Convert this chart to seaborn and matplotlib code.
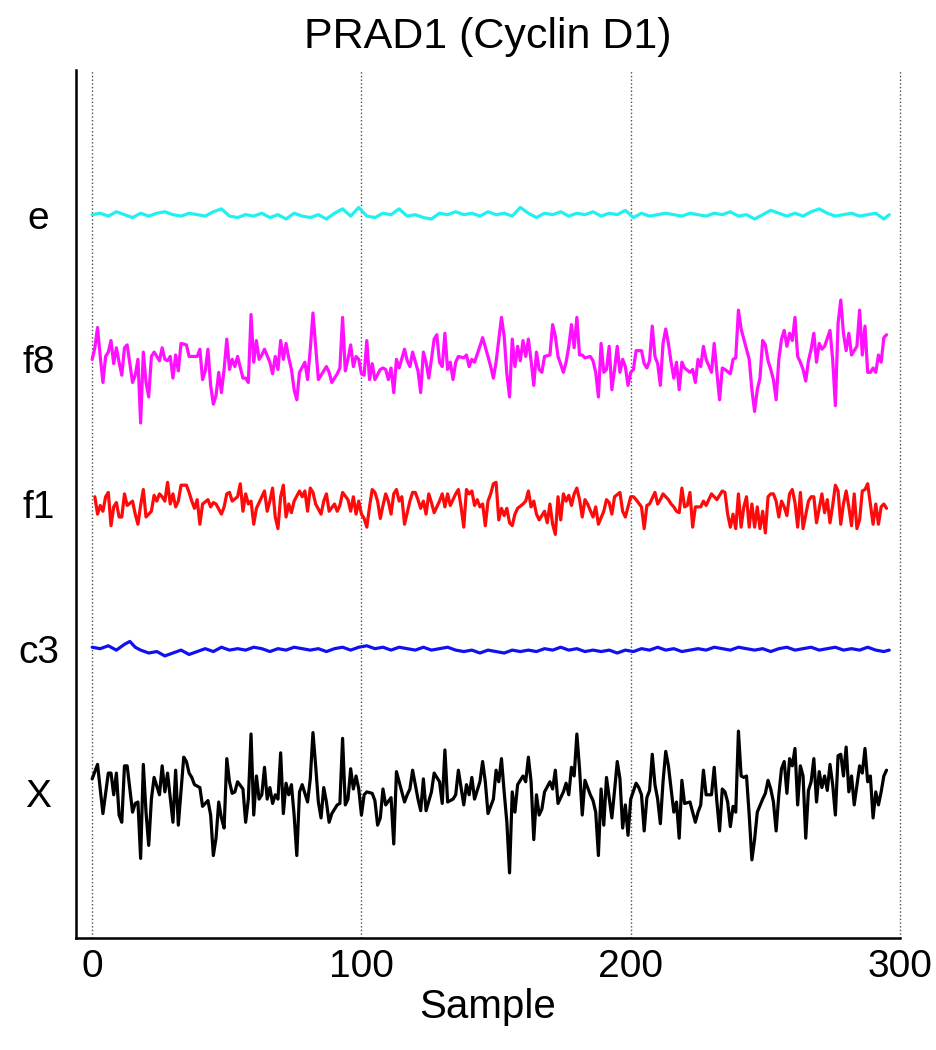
import pandas as pd
import seaborn as sns
import matplotlib.pyplot as plt

# (sample, deviation); 100 units = spacing between traces
x_pts = [(0, 10), (2, 20), (4, -14), (6, 14), (7, 14), (8, -1), (9, 14), (10, -15), (11, -20), (12, 19),
         (13, 19), (15, -13), (16, -7), (17, -6), (18, -45), (19, 20), (20, -13), (21, -36), (22, -4), (23, 11),
         (25, -1), (26, 19), (27, 1), (28, 14), (30, -20), (31, 16), (32, -22), (34, 25), (35, 22), (36, 14),
         (37, 11), (38, 6), (40, 4), (41, -9), (43, -5), (44, -15), (45, -43), (46, -31), (47, -6), (48, -17),
         (49, -24), (50, 24), (51, 8), (52, 0), (53, 1), (54, 8), (56, 3), (57, -20), (58, -4), (59, 41),
         (60, -15), (61, 12), (62, -4), (63, -1), (64, 18), (65, -4), (66, 4), (67, -7), (68, -1), (69, -4),
         (70, 28), (71, -14), (72, 7), (73, -1), (74, 6), (75, -15), (76, -43), (77, 1), (78, 6), (80, -6),
         (81, 10), (82, 42), (83, 19), (84, -6), (85, -17), (86, 4), (87, -6), (88, -20), (89, -14), (91, -8),
         (92, -7), (93, 38), (94, -8), (95, -4), (96, 17), (97, 3), (98, 12), (99, 3), (100, -15), (101, -1),
         (102, 1), (104, 0), (105, -5), (106, -22), (107, -17), (108, 3), (109, -8), (111, -3), (112, -35), (113, 15),
         (114, 8), (116, -6), (117, -1), (118, 3), (119, 16), (121, -4), (122, -12), (123, 10), (124, -12), (126, 1),
         (127, 14), (129, 8), (130, -7), (131, 30), (132, -6), (134, -4), (135, -1), (136, 16), (138, -8), (139, 6),
         (140, -1), (141, 11), (142, -4), (144, 8), (145, 22), (146, 8), (147, -14), (149, -4), (150, 16), (151, 8),
         (152, 24), (153, 1), (154, -20), (155, -55), (156, 1), (157, -13), (158, 6), (160, 12), (161, 8), (162, 25),
         (163, 8), (164, -32), (165, -1), (166, -15), (167, -11), (168, 1), (170, 8), (171, 3), (172, 16), (173, -7),
         (175, 1), (176, 7), (177, -1), (178, 18), (179, 12), (180, 41), (181, 17), (182, -15), (183, 9), (185, -1),
         (186, -5), (187, -13), (188, -43), (189, 3), (190, -22), (191, 11), (193, -17), (194, 2), (195, 22), (196, 10),
         (197, -24), (198, -8), (199, -29), (200, -4), (202, 7), (203, 4), (204, -1), (205, -26), (206, -3), (207, 2),
         (208, 27), (209, 6), (210, -4), (211, -21), (212, 8), (213, 29), (214, 19), (215, 3), (216, -13), (217, -6),
         (218, -31), (219, 9), (220, -7), (222, -6), (223, -13), (224, -20), (225, -13), (226, -8), (227, 16), (228, -1),
         (230, -1), (231, 18), (232, -6), (233, -26), (234, 3), (235, 1), (236, -6), (237, -23), (238, -9), (239, -13),
         (240, 43), (241, 12), (242, 11), (243, 12), (244, -15), (245, -46), (246, -32), (247, -13), (249, -4), (250, 0),
         (251, 9), (252, 3), (253, -6), (254, -26), (255, -1), (256, 17), (257, 22), (258, 0), (259, 24), (260, 19),
         (261, 31), (262, -8), (263, 19), (264, 12), (265, -31), (266, 2), (267, 8), (268, 24), (269, -6), (270, 15),
         (271, 4), (272, 12), (273, 2), (274, 20), (275, 6), (276, -15), (277, 26), (278, 27), (279, 12), (280, 32),
         (281, 1), (282, 12), (283, -8), (285, 19), (286, 14), (287, 31), (288, 8), (289, 12), (290, -17), (291, 1),
         (292, -8), (293, 1), (294, 12), (295, 16)]

c3_pts = [(0, 1), (3, 0), (6, 2), (9, -1), (12, 3), (14, 5), (16, 1), (18, -1), (21, -3), (24, -2),
          (27, -5), (30, -3), (33, -1), (36, -4), (39, -2), (42, 0), (45, -2), (48, 1), (51, -1), (54, 0),
          (57, -1), (60, 1), (63, 0), (66, -2), (69, 0), (72, -1), (75, 1), (78, 0), (81, -1), (84, 0),
          (87, -2), (90, 0), (93, 1), (96, -1), (99, 1), (102, 2), (105, 0), (108, 1), (111, -1), (114, 1),
          (117, 0), (120, -1), (123, 1), (126, -1), (129, 0), (132, 1), (135, -1), (138, -2), (141, -1), (144, -3),
          (147, -1), (150, -2), (153, -3), (156, -1), (159, -2), (162, -1), (165, -2), (168, 0), (171, -1), (174, 1),
          (177, -1), (180, 0), (183, -2), (186, -1), (189, -2), (192, -1), (195, -3), (198, -1), (201, -2), (204, 0),
          (207, -1), (210, 1), (213, -1), (216, 0), (219, -2), (222, -1), (225, 0), (228, -1), (231, 1), (234, 0),
          (237, -1), (240, 1), (243, 0), (246, -1), (249, 0), (252, -2), (255, 0), (258, 1), (261, -1), (264, 0),
          (267, 1), (270, -1), (273, 0), (276, 1), (279, -1), (282, 0), (285, -1), (288, 1), (291, -1), (294, -2),
          (296, -1)]

f1_pts = [(1, 5), (2, -7), (3, -1), (4, -5), (5, 5), (6, 8), (7, -15), (8, -2), (9, 1), (10, -9),
          (11, -9), (12, 7), (13, -1), (15, 2), (16, -7), (17, -14), (18, -1), (19, 10), (20, -9), (22, -5),
          (23, 6), (24, 2), (25, 7), (26, 5), (27, 2), (28, 15), (29, 0), (30, 7), (31, -2), (32, 2),
          (33, 13), (35, 13), (36, 8), (37, 2), (38, -3), (39, 3), (40, -14), (41, 0), (43, 3), (44, -2),
          (45, 1), (46, 0), (48, -7), (49, -2), (50, 7), (51, 8), (52, 2), (54, 5), (55, 14), (56, -5),
          (57, 7), (58, 0), (59, 2), (60, -14), (61, -3), (62, 1), (64, 9), (65, -5), (66, 2), (67, 11),
          (68, -9), (69, -17), (70, 5), (71, 13), (72, -9), (73, 0), (74, -6), (75, 2), (77, 9), (78, 5),
          (79, 9), (80, -5), (81, 11), (82, 8), (83, 0), (85, -7), (86, 2), (87, 7), (88, -5), (90, 0),
          (91, -5), (92, -1), (93, 8), (95, 3), (96, -5), (97, 5), (98, -7), (99, 2), (100, -7), (101, -10),
          (102, -16), (103, -2), (104, 10), (105, 8), (106, 2), (107, -10), (108, -1), (109, 7), (110, 2), (111, -7),
          (112, 7), (113, 10), (114, 2), (115, 5), (116, -14), (118, 2), (119, 8), (120, 8), (121, 3), (122, -3),
          (123, 2), (124, -7), (125, 7), (126, 1), (127, -6), (129, 2), (130, 7), (131, -2), (132, 7), (133, -1),
          (135, 7), (136, 10), (137, -2), (138, -16), (139, 10), (140, 7), (141, 9), (142, -1), (143, 3), (144, -2),
          (145, 0), (146, -15), (147, 2), (148, 7), (149, 14), (150, 15), (151, -11), (152, -3), (153, -8), (154, -3),
          (155, -13), (156, -15), (157, -7), (158, -3), (160, 0), (161, 2), (162, 9), (163, -2), (164, 2), (165, -7),
          (166, -11), (168, -5), (169, -13), (170, 0), (171, -14), (172, -21), (173, 5), (174, -11), (175, 7), (176, 2),
          (177, 6), (178, -1), (179, 7), (180, 11), (181, 3), (182, -9), (183, 3), (184, 0), (186, -9), (187, -2),
          (188, -14), (190, -5), (191, 3), (192, 1), (193, -7), (194, 5), (196, 8), (197, -5), (198, -9), (199, -2),
          (200, 5), (201, 5), (202, 3), (204, -2), (205, -17), (206, -1), (207, 0), (209, 8), (210, 0), (211, 3),
          (212, 7), (214, 3), (215, 0), (216, -2), (217, -5), (218, -6), (219, 11), (220, -2), (221, -1), (222, 8),
          (223, -16), (224, -2), (226, -2), (227, 2), (228, -1), (229, 3), (230, 7), (232, 3), (233, 6), (234, 9),
          (235, 8), (236, -7), (237, -16), (238, -7), (239, -17), (240, 7), (241, -16), (242, -2), (243, 5), (244, -16),
          (245, 0), (246, -16), (247, -2), (248, -17), (249, -5), (250, -20), (251, 5), (252, 7), (253, 7), (254, 2),
          (255, -9), (256, 2), (257, -2), (258, -8), (259, 7), (260, 10), (261, 1), (262, -16), (263, 8), (264, -17),
          (266, 2), (267, 5), (268, 5), (269, -13), (271, 7), (272, -6), (273, 3), (274, -13), (275, -1), (276, 13),
          (277, 9), (278, -14), (279, 0), (280, 9), (281, -2), (282, -15), (283, 7), (284, -17), (285, -11), (286, 9),
          (287, 10), (288, 14), (290, -14), (291, 0), (292, -14), (293, -2), (294, 0), (295, -3)]

f8_pts = [(0, 0), (1, 8), (2, 22), (3, 2), (4, -16), (5, 2), (6, 5), (7, 13), (8, -3), (9, 8),
          (10, -2), (11, -11), (12, 8), (13, 10), (15, -16), (16, -11), (17, 0), (18, -44), (19, 5), (20, -16),
          (21, -26), (22, 2), (23, 5), (25, -1), (26, 8), (27, 0), (28, -1), (29, 2), (30, -13), (31, 3),
          (32, -8), (33, 11), (35, 10), (36, 2), (37, 2), (39, 2), (40, 7), (41, -14), (42, -8), (43, 7),
          (44, -18), (45, -31), (46, -25), (47, -9), (48, -23), (49, -7), (50, 14), (51, -7), (52, 0), (53, -5),
          (54, 2), (56, -13), (57, -13), (58, -16), (59, 31), (60, -2), (61, 13), (62, 0), (63, 3), (64, 7),
          (66, -2), (67, -10), (68, 2), (69, -7), (70, 13), (71, 0), (72, 11), (73, 1), (74, -7), (75, -21),
          (76, -28), (77, -9), (79, -2), (80, -14), (81, 7), (82, 32), (83, 9), (84, -14), (86, -8), (87, -5),
          (88, -9), (89, -16), (91, -10), (92, -6), (93, 29), (94, -8), (95, 0), (96, 10), (97, -5), (98, 2),
          (99, 0), (100, -10), (101, -11), (102, 13), (103, -14), (104, -3), (105, -14), (107, -7), (108, -6), (109, -7),
          (110, -14), (111, -6), (112, -23), (113, 0), (114, -6), (116, 7), (117, -1), (118, -5), (119, 5), (121, -8),
          (122, -23), (123, 5), (124, -2), (125, -13), (126, 0), (127, 14), (128, 17), (129, -2), (130, -5), (131, 18),
          (132, -7), (133, -2), (134, -14), (135, -2), (136, 2), (138, 1), (139, 3), (140, -5), (141, 0), (142, -2),
          (144, 9), (145, 15), (147, 2), (148, -5), (149, -13), (150, -2), (152, 29), (153, 16), (154, -10), (155, -26),
          (156, 14), (157, -5), (158, 9), (159, -1), (160, 13), (161, 2), (162, 14), (163, -1), (164, -18), (165, 5),
          (166, -7), (167, -9), (168, 2), (170, 3), (171, 24), (172, 16), (173, 2), (175, -9), (176, -2), (177, 9),
          (178, 24), (179, 8), (180, 29), (181, 3), (182, 3), (183, 1), (185, 2), (186, -1), (187, -9), (188, -26),
          (189, 11), (190, -9), (191, -7), (192, 9), (193, -21), (194, -7), (195, 9), (196, -9), (197, 0), (198, -5),
          (199, -18), (200, -9), (201, -7), (202, 6), (204, 6), (205, -3), (206, -6), (207, -1), (208, 23), (209, 2),
          (210, -3), (211, -18), (212, 11), (213, 21), (214, 11), (215, -2), (216, -13), (217, -2), (218, -21), (219, -2),
          (220, -6), (222, -9), (223, -7), (224, -16), (225, 0), (226, -5), (227, 9), (228, 0), (230, -9), (231, 11),
          (232, -9), (233, -28), (234, -6), (235, -7), (237, -10), (238, 0), (239, 1), (240, 34), (241, 21), (242, 14),
          (244, 0), (245, -21), (246, -36), (247, -21), (248, -13), (249, 13), (250, 10), (251, -1), (252, -7), (253, -14),
          (254, -28), (255, 0), (256, 14), (257, 20), (258, 9), (259, 18), (260, 13), (261, 29), (262, 2), (263, -2),
          (264, -7), (265, -15), (266, -1), (267, 7), (268, 18), (269, -2), (270, 11), (271, 7), (272, 9), (274, 20),
          (275, 0), (276, -32), (277, 25), (278, 41), (279, 18), (280, 6), (281, 18), (282, 3), (284, 9), (285, 34),
          (286, 3), (287, 23), (288, -9), (289, -9), (290, -6), (291, -9), (292, 3), (293, -2), (294, 15), (295, 17)]

e_pts = [(0, 0), (3, 1), (6, -1), (9, 2), (12, 0), (15, -2), (18, 1), (21, -1), (24, 1), (27, 2),
         (30, 0), (33, -1), (36, 1), (39, 0), (42, -1), (45, 2), (48, 4), (51, -1), (54, -2), (57, 0),
         (60, -1), (63, 1), (66, -2), (69, 0), (72, -3), (75, 1), (78, -1), (81, -2), (84, 0), (87, -3),
         (90, 1), (93, 4), (96, -1), (99, 5), (102, -1), (105, -2), (108, 1), (111, 0), (114, 4), (117, -1),
         (120, 0), (123, -2), (126, -3), (129, 1), (132, 0), (135, 2), (138, 0), (141, 1), (144, -1), (147, 2),
         (150, 0), (153, 1), (156, -1), (159, 5), (162, 1), (165, -2), (168, 1), (171, 0), (174, 2), (177, -1),
         (180, 1), (183, 0), (186, 2), (189, -1), (192, 1), (195, 0), (198, 3), (201, -2), (204, 1), (207, -1),
         (210, 0), (213, 1), (216, 0), (219, -1), (222, 1), (225, 0), (228, -1), (231, 1), (234, 0), (237, 2),
         (240, -1), (243, 0), (246, -3), (249, 0), (252, 3), (255, 1), (258, -1), (261, 1), (264, -1), (267, 2),
         (270, 4), (273, 1), (276, -1), (279, 0), (282, 1), (285, -1), (288, 0), (291, 1), (294, -3), (296, 0)]

series = ["X", "c3", "f1", "f8", "e"]
points = [x_pts, c3_pts, f1_pts, f8_pts, e_pts]
offsets = [0, 100, 200, 300, 400]
colors = ["#000000", "#1010f0", "#ff0a0a", "#ff10ff", "#20f0f0"]

frames = []
for name, pts, off in zip(series, points, offsets):
    d = pd.DataFrame(pts, columns=["sample", "value"])
    d["y"] = d["value"] + off
    d["series"] = name
    frames.append(d)
df = pd.concat(frames, ignore_index=True)

sns.set_style("white")
plt.rcParams["font.family"] = ["Liberation Sans", "DejaVu Sans"]
plt.rcParams["text.color"] = "black"
plt.rcParams["axes.labelcolor"] = "black"

fig = plt.figure(figsize=(9.36, 10.5), dpi=100)
ax = fig.add_axes([76 / 936, 112 / 1050, 824 / 936, 868 / 1050])

sns.lineplot(data=df, x="sample", y="y", hue="series", palette=dict(zip(series, colors)),
             estimator=None, legend=False, linewidth=2.3, ax=ax)

ax.set_xlim(-6, 300)
ax.set_ylim(-100, 500)
ax.set_xticks([0, 100, 200, 300])
ax.set_yticks(offsets + [500])
ax.set_yticklabels(series + [""])
ax.xaxis.grid(True, linestyle=":", color="0.3", linewidth=1.0)
ax.yaxis.grid(False)
for gl in ax.get_xgridlines():
    gl.set_clip_on(False)

for side in ["top", "right"]:
    ax.spines[side].set_visible(False)
for side in ["left", "bottom"]:
    ax.spines[side].set_linewidth(1.8)
    ax.spines[side].set_color("black")

ax.tick_params(axis="both", direction="in", length=6, width=1.6, labelsize=28, colors="black")
ax.tick_params(axis="x", pad=8)
ax.tick_params(axis="y", pad=27)
for lab in ax.get_yticklabels():
    lab.set_horizontalalignment("center")

ax.set_xlabel("Sample", fontsize=29, labelpad=2, color="black")
ax.set_ylabel("")
ax.set_title("PRAD1 (Cyclin D1)", fontsize=31, pad=16, color="black")

fig.savefig("out.png", dpi=100)
